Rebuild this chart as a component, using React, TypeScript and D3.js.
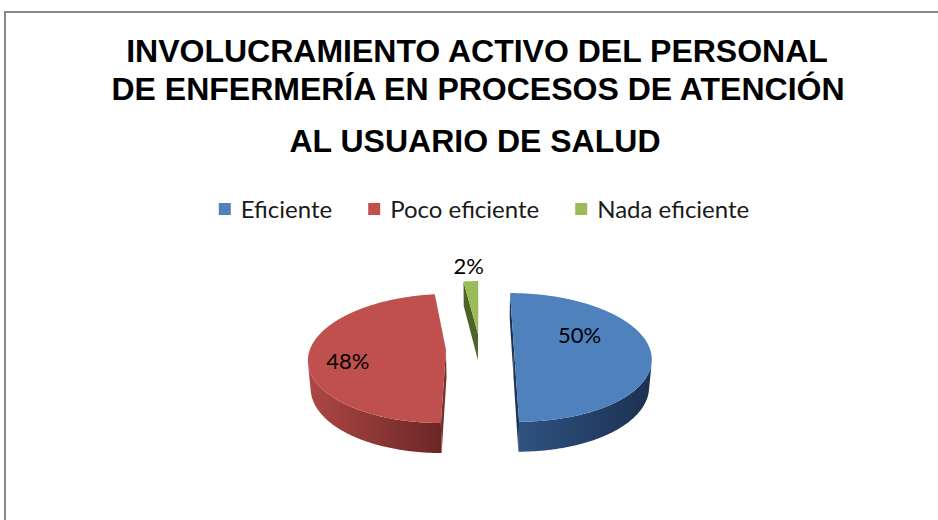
import React from 'react';
import * as d3 from 'd3';

// chart data
const categories = ['Eficiente', 'Poco eficiente', 'Nada eficiente'];
const percents = [50, 48, 2];
const titleLines = [
    'INVOLUCRAMIENTO ACTIVO DEL PERSONAL',
    'DE ENFERMERÍA EN PROCESOS DE ATENCIÓN',
    'AL USUARIO DE SALUD',
];

const W = 938;
const H = 520;
const topColors = ['#4F81BD', '#C0504D', '#9BBB59'];
const wallLight = ['#2f5281', '#ad4744', '#6f8a3a'];
const wallDark = ['#1c3150', '#6b2725', '#4f6228'];
const faceColors = ['#1e3454', '#78302d', '#4f6228'];

// 3d view of the pie (units of pie radius)
const cx = 480;
const cy = 349;
const K = 136;
const elev = 27.7 * Math.PI / 180;
const sinA = Math.sin(elev);
const cosA = Math.cos(elev);
const camDist = 6.79;
const depth = 0.23;
const explode = 0.25;

type P3 = [number, number, number]; // X right, Y up, Z toward viewer

const cam: P3 = [0, camDist * sinA, camDist * cosA];

function project([X, Y, Z]: P3): [number, number] {
    const d = Z * cosA + Y * sinA;
    const f = camDist / (camDist - d);
    return [cx + K * X * f, cy + K * (Z * sinA - Y * cosA) * f];
}

function rim(c: P3, a: number, r: number, y: number): P3 {
    return [c[0] + r * Math.sin(a), y, c[2] - r * Math.cos(a)];
}

function facing(n: P3, p: P3) {
    return n[0] * (cam[0] - p[0]) + n[1] * (cam[1] - p[1]) + n[2] * (cam[2] - p[2]) > 0;
}

const measure = (() => {
    const ctx = document.createElement('canvas').getContext('2d')!;
    return (txt: string, font: string) => {
        ctx.font = font;
        return ctx.measureText(txt).width;
    };
})();

export default function App() {
    const arcs = d3.pie<number>().sort(null).value(d => d)(percents);
    const line = d3.line<[number, number]>();
    const toPath = (pts: P3[]) => line(pts.map(project)) + 'Z';

    const step = Math.PI / 360;
    const slices = arcs.map((a, i) => {
        const am = (a.startAngle + a.endAngle) / 2;
        const c: P3 = [explode * Math.sin(am), 0, -explode * Math.cos(am)];
        const n = Math.max(2, Math.ceil((a.endAngle - a.startAngle) / step));
        const angles = d3.range(n + 1).map(k => a.startAngle + (a.endAngle - a.startAngle) * k / n);

        // top face
        const top = toPath([c, ...angles.map(t => rim(c, t, 1, 0))]);

        // outer wall, only the runs that face the camera
        const walls: string[] = [];
        let run: number[] = [];
        const flush = () => {
            if (run.length > 1) {
                const upper = run.map(t => rim(c, t, 1, 0));
                const lower = run.slice().reverse().map(t => rim(c, t, 1, -depth));
                walls.push(toPath([...upper, ...lower]));
            }
            run = [];
        };
        for (let k = 0; k < n; k++) {
            const tm = (angles[k] + angles[k + 1]) / 2;
            const nrm: P3 = [Math.sin(tm), 0, -Math.cos(tm)];
            if (facing(nrm, rim(c, tm, 1, -depth / 2))) {
                if (!run.length) run.push(angles[k]);
                run.push(angles[k + 1]);
            } else flush();
        }
        flush();

        // radial cut faces
        const faces: string[] = [];
        [a.startAngle, a.endAngle].forEach(t => {
            let nrm: P3 = [Math.cos(t), 0, Math.sin(t)];
            if (nrm[0] * Math.sin(am) - nrm[2] * Math.cos(am) > 0) nrm = [-nrm[0], 0, -nrm[2]];
            const mid = rim(c, t, 0.5, -depth / 2);
            if (facing(nrm, mid)) {
                faces.push(toPath([c, rim(c, t, 1, 0), rim(c, t, 1, -depth), [c[0], -depth, c[2]]]));
            }
        });

        // label spot
        const small = a.value < 10;
        const [lx, ly] = project(rim(c, am, small ? 1.35 : 0.6, 0));
        return { i, top, walls, faces, lx, ly, small, value: a.value };
    });

    const labelNudge: Record<number, [number, number]> = { 0: [-16, -15], 1: [-16, 8], 2: [0, 0] };

    // legend layout
    const legendFont = '24px Lato';
    const box = 12;
    const boxGap = 10;
    const itemGap = 36;
    const widths = categories.map(c => measure(c, legendFont));
    const total = d3.sum(widths) + categories.length * (box + boxGap) + itemGap * (categories.length - 1);
    let lx0 = 484 - total / 2;
    const legendItems = categories.map((c, i) => {
        const x = lx0;
        lx0 += box + boxGap + widths[i] + itemGap;
        return { c, x, i };
    });

    return (
        <svg width={W} height={H} style={{ position: 'absolute', left: 0, top: 0, background: '#fff' }}>
            <defs>
                {topColors.map((_, i) => (
                    <linearGradient key={i} id={`wall${i}`} x1="0" x2="1" y1="0" y2="0">
                        <stop offset="0" stopColor={wallLight[i]} />
                        <stop offset="1" stopColor={wallDark[i]} />
                    </linearGradient>
                ))}
            </defs>
            <rect x={5} y={12} width={1000} height={600} fill="#fff" stroke="#878787" strokeWidth={2} />

            <g fontFamily="'Liberation Sans', Arial, sans-serif" fontWeight="bold" fontSize={32} fill="#000" textAnchor="middle">
                <text x={477} y={62}>{titleLines[0]}</text>
                <text x={478} y={100}>{titleLines[1]}</text>
                <text x={475} y={152}>{titleLines[2]}</text>
            </g>

            <g fontFamily="Lato, sans-serif" fontSize={24} fill="#1a1a1a">
                {legendItems.map(d => (
                    <g key={d.c} transform={`translate(${d.x},0)`}>
                        <rect x={0} y={203} width={box} height={box} fill={topColors[d.i]} />
                        <text x={box + boxGap} y={218}>{d.c}</text>
                    </g>
                ))}
            </g>

            {[2, 1, 0].map(k => slices[k]).map(s => (
                <g key={s.i}>
                    {s.faces.map((p, j) => <path key={'f' + j} d={p} fill={faceColors[s.i]} />)}
                    {s.walls.map((p, j) => <path key={'w' + j} d={p} fill={`url(#wall${s.i})`} />)}
                    <path d={s.top} fill={topColors[s.i]} />
                </g>
            ))}

            <g fontFamily="Lato, sans-serif" fontSize={22} fill="#000" textAnchor="middle">
                {slices.map(s => (
                    <text key={s.i} x={s.lx + labelNudge[s.i][0]} y={s.ly + labelNudge[s.i][1]} dominantBaseline="central">
                        {s.value}%
                    </text>
                ))}
            </g>
        </svg>
    );
}
